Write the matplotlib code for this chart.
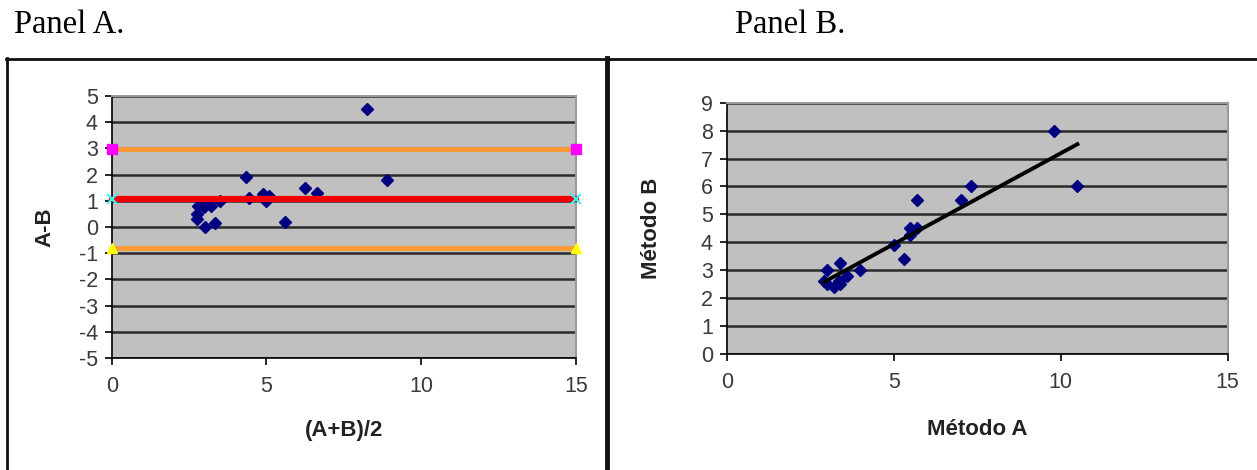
import numpy as np
import matplotlib
matplotlib.use("Agg")
import matplotlib.pyplot as plt
from matplotlib.lines import Line2D

plt.rcParams["axes.unicode_minus"] = False

# ---- data ----
metodo_a = [9.8, 10.5, 7.3, 7.0, 5.7, 5.5, 5.7, 5.5, 5.0, 5.3, 4.0, 3.4, 3.0, 2.9, 3.0, 3.4, 3.6, 3.35, 3.2]
metodo_b = [8.0, 6.0, 6.0, 5.5, 5.5, 4.5, 4.5, 4.25, 3.9, 3.4, 3.0, 3.25, 3.0, 2.6, 2.5, 2.5, 2.8, 2.6, 2.4]
mean_diff = 1.08
upper_limit = 2.97
lower_limit = -0.81
line_x = [0, 15]

xticks_a = [0, 5, 10, 15]
yticks_a = list(range(-5, 6))
xticks_b = [0, 5, 10, 15]
yticks_b = list(range(0, 10))

a = np.array(metodo_a)
b = np.array(metodo_b)
avg = (a + b) / 2
diff = a - b

W, H = 1257, 470
fig = plt.figure(figsize=(W / 100, H / 100), dpi=100)
fig.patch.set_facecolor("white")

SANS = ["Liberation Sans", "DejaVu Sans"]
SERIF = ["Liberation Serif", "DejaVu Serif"]
NAVY = "#000080"
GRID = "#2a2a2a"
TICKC = "#3a3a3a"
TICKFS = 15.5
LABFS = 16


def fx(px):
    return px / W


def fy(py):
    return 1 - py / H


def style_axes(ax, xt, yt):
    ax.set_facecolor("#C0C0C0")
    ax.set_xticks(xt)
    ax.set_yticks(yt)
    ax.yaxis.grid(True, color=GRID, lw=1.8, zorder=1)
    ax.set_axisbelow(True)
    for s in ["top", "right"]:
        ax.spines[s].set_color("#9a9a9a")
        ax.spines[s].set_linewidth(1.5)
    for s in ["left", "bottom"]:
        ax.spines[s].set_color("black")
        ax.spines[s].set_linewidth(1.2)
    ax.tick_params(direction="out", length=5, width=1.2, color="black",
                   labelsize=TICKFS, labelcolor=TICKC, pad=5)
    ax.tick_params(axis="x", pad=8)
    for lab in ax.get_xticklabels() + ax.get_yticklabels():
        lab.set_family(SANS)


# ---- Panel A: Bland-Altman ----
axA = fig.add_axes([fx(111.7), fy(358), fx(575.8) - fx(111.7), fy(96) - fy(358)])
axA.set_xlim(0, 15)
axA.set_ylim(-5, 5)
style_axes(axA, xticks_a, yticks_a)
axA.plot(line_x, [upper_limit] * 2, color="#FF9933", lw=3.5, zorder=3,
         marker="s", ms=6.5, mfc="#FF00FF", mec="#FF00FF", clip_on=False)
axA.plot(line_x, [lower_limit] * 2, color="#FF9933", lw=3.5, zorder=3,
         marker="^", ms=7.5, mfc="#FFFF00", mec="#FFFF00", clip_on=False)
axA.plot(avg, diff, ls="none", marker="D", ms=6, color=NAVY, zorder=4)
axA.plot(line_x, [mean_diff] * 2, color="#F00000", lw=4.5, zorder=5,
         marker="x", ms=7, mew=1.5, mec="#33FFFF", clip_on=False)
axA.set_xlabel("(A+B)/2", fontsize=LABFS, fontweight="bold", family=SANS, color="#222222")
axA.set_ylabel("A-B", fontsize=LABFS, fontweight="bold", family=SANS, color="#222222")
axA.xaxis.set_label_coords(0.5, -0.275)
axA.xaxis.label.set_va("center")
axA.yaxis.set_label_coords(-0.144, 0.5)
axA.yaxis.label.set_va("center")

# ---- Panel B: scatter with regression line ----
axB = fig.add_axes([fx(726.8), fy(354), fx(1227.7) - fx(726.8), fy(102.7) - fy(354)])
axB.set_xlim(0, 15)
axB.set_ylim(0, 9)
style_axes(axB, xticks_b, yticks_b)
axB.plot(a, b, ls="none", marker="D", ms=6, color=NAVY, zorder=4)
slope, intercept = np.polyfit(a, b, 1)
fit_x = np.array([a.min(), a.max()])
axB.plot(fit_x, slope * fit_x + intercept, color="black", lw=2.8, zorder=5)
axB.set_xlabel("Método A", fontsize=LABFS, fontweight="bold", family=SANS, color="#222222")
axB.set_ylabel("Método B", fontsize=LABFS, fontweight="bold", family=SANS, color="#222222")
axB.xaxis.set_label_coords(0.5, -0.302)
axB.xaxis.label.set_va("center")
axB.yaxis.set_label_coords(-0.151, 0.5)
axB.yaxis.label.set_va("center")

# ---- panel titles ----
fig.text(fx(14), fy(25), "Panel A.", fontsize=23.5, family=SERIF, va="center", ha="left")
fig.text(fx(735), fy(25), "Panel B.", fontsize=23.5, family=SERIF, va="center", ha="left")

# ---- frame lines ----
fig.add_artist(Line2D([fx(6), 1.0], [fy(58.5), fy(58.5)], color="#111111", lw=2.0))
fig.add_artist(Line2D([fx(7), fx(7)], [fy(58), 0], color="#111111", lw=2.0))
fig.add_artist(Line2D([fx(606.5), fx(606.5)], [fy(58), 0], color="#111111", lw=3.5))

fig.savefig("out.png", dpi=100, facecolor="white")
